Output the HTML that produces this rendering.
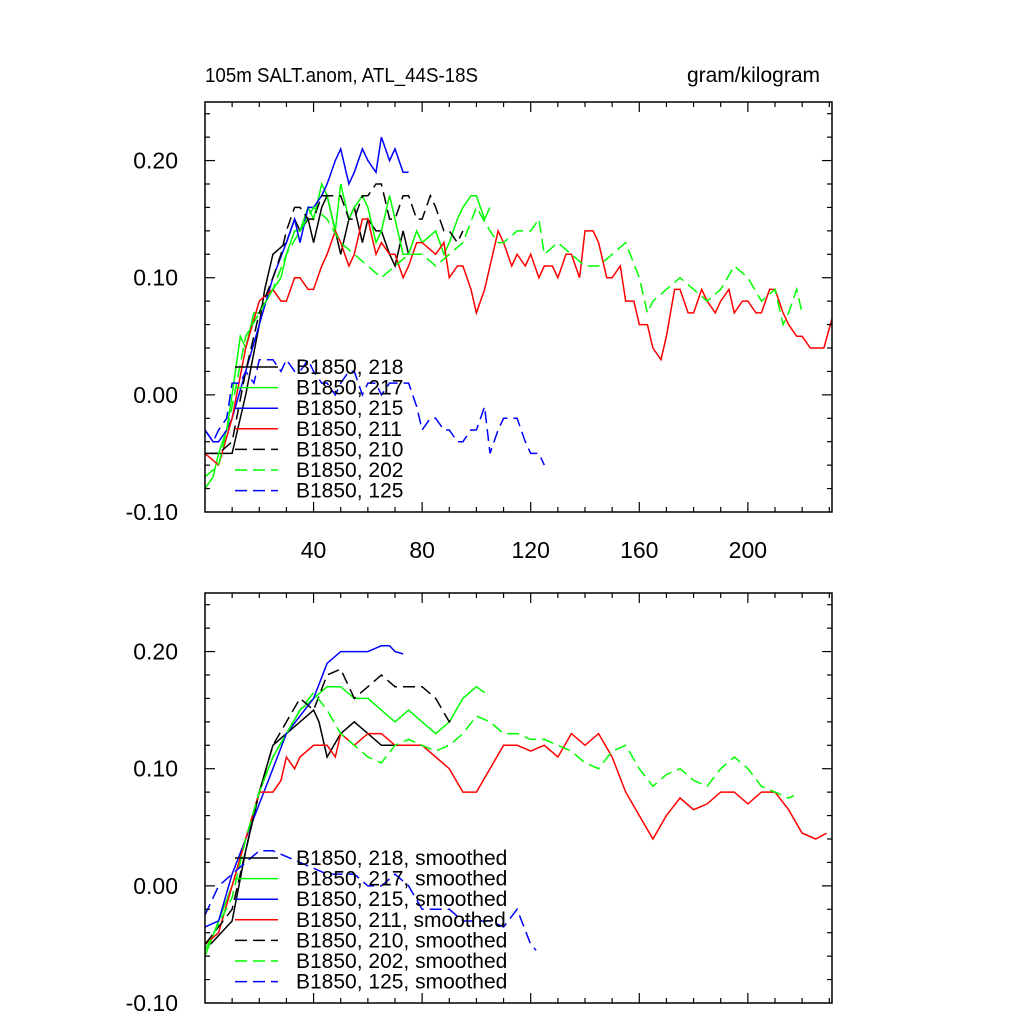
<!DOCTYPE html>
<html><head><meta charset="utf-8"><style>
body{margin:0;background:#fff}
svg text{font-family:"Liberation Sans",sans-serif;fill:#000}
</style></head><body>
<svg id="chart" width="1024" height="1024" viewBox="0 0 1024 1024">
<text x="205" y="82" font-size="20" textLength="273" lengthAdjust="spacingAndGlyphs">105m SALT.anom, ATL_44S-18S</text>
<text x="820" y="82" font-size="21" text-anchor="end">gram/kilogram</text>
</svg>
<script>
const seriesNames=["218","217","215","211","210","202","125"];
const seriesColors=["#000","#0f0","#00f","#f00","#000","#0f0","#00f"];
const seriesDashed=[false,false,false,false,true,true,true];
const yTicks=[-0.10,0.00,0.10,0.20];
const yTickLabels=["-0.10","0.00","0.10","0.20"];
const xTicks=[40,80,120,160,200];
const xTickLabels=["40","80","120","160","200"];
const raw218=[[2,-0.05],[10,-0.05],[15,0.0],[20,0.06],[22,0.09],[25,0.12],[30,0.13],[33,0.15],[35,0.14],[38,0.15],[40,0.13],[43,0.16],[45,0.17],[48,0.14],[50,0.12],[53,0.15],[55,0.16],[58,0.13],[60,0.15],[63,0.14],[65,0.14],[68,0.12],[70,0.11],[73,0.14],[75,0.12]];
const raw217=[[0,-0.08],[3,-0.07],[5,-0.05],[8,-0.03],[10,0.0],[13,0.05],[15,0.04],[18,0.07],[20,0.07],[25,0.09],[28,0.1],[30,0.12],[33,0.14],[35,0.14],[38,0.16],[40,0.15],[43,0.18],[45,0.17],[48,0.14],[50,0.18],[53,0.15],[55,0.16],[58,0.17],[60,0.16],[63,0.13],[65,0.14],[68,0.17],[70,0.15],[73,0.12],[75,0.12],[78,0.14],[80,0.13],[85,0.14],[88,0.12],[90,0.13],[93,0.15],[95,0.16],[98,0.17],[100,0.17],[103,0.15],[105,0.16]];
const raw215=[[0,-0.03],[3,-0.04],[5,-0.04],[8,-0.03],[10,-0.02],[15,0.02],[20,0.06],[25,0.1],[30,0.13],[33,0.15],[35,0.13],[38,0.16],[40,0.16],[43,0.17],[45,0.18],[48,0.2],[50,0.21],[53,0.18],[55,0.19],[58,0.21],[60,0.2],[63,0.19],[65,0.22],[68,0.2],[70,0.21],[73,0.19],[75,0.19]];
const raw211=[[0,-0.05],[5,-0.06],[10,-0.02],[15,0.04],[20,0.08],[25,0.09],[28,0.08],[30,0.08],[33,0.1],[35,0.1],[38,0.09],[40,0.09],[43,0.11],[45,0.12],[48,0.14],[50,0.13],[53,0.11],[55,0.12],[58,0.15],[60,0.15],[63,0.12],[65,0.13],[68,0.12],[70,0.12],[73,0.1],[75,0.11],[78,0.13],[80,0.13],[85,0.12],[88,0.13],[90,0.1],[93,0.11],[95,0.11],[98,0.09],[100,0.07],[103,0.09],[105,0.11],[108,0.14],[110,0.13],[113,0.11],[115,0.12],[118,0.11],[120,0.12],[123,0.1],[125,0.11],[128,0.11],[130,0.1],[133,0.12],[135,0.12],[138,0.1],[140,0.14],[143,0.14],[145,0.13],[148,0.1],[150,0.1],[153,0.11],[155,0.08],[158,0.08],[160,0.06],[163,0.06],[165,0.04],[168,0.03],[170,0.05],[173,0.09],[175,0.09],[178,0.07],[180,0.07],[183,0.09],[185,0.08],[188,0.07],[190,0.08],[193,0.09],[195,0.07],[198,0.08],[200,0.08],[203,0.07],[205,0.07],[208,0.09],[210,0.09],[213,0.07],[215,0.06],[218,0.05],[220,0.05],[223,0.04],[225,0.04],[228,0.04],[231,0.065]];
const raw210=[[0,-0.05],[5,-0.05],[10,-0.04],[15,0.02],[20,0.07],[25,0.1],[28,0.12],[30,0.14],[33,0.16],[35,0.16],[38,0.15],[40,0.15],[43,0.17],[45,0.17],[48,0.17],[50,0.17],[53,0.15],[55,0.15],[58,0.17],[60,0.17],[63,0.18],[65,0.18],[68,0.15],[70,0.15],[73,0.17],[75,0.17],[78,0.15],[80,0.15],[83,0.17],[85,0.16],[88,0.14],[90,0.14],[93,0.13],[95,0.14]];
const raw202=[[0,-0.07],[5,-0.06],[10,-0.01],[15,0.05],[20,0.07],[25,0.09],[30,0.12],[35,0.14],[40,0.16],[45,0.15],[50,0.13],[55,0.12],[60,0.11],[65,0.1],[70,0.11],[75,0.12],[80,0.12],[85,0.11],[90,0.12],[95,0.13],[100,0.16],[105,0.14],[108,0.13],[110,0.13],[115,0.14],[120,0.14],[123,0.15],[125,0.12],[130,0.13],[135,0.12],[140,0.11],[145,0.11],[150,0.12],[155,0.13],[160,0.1],[163,0.07],[165,0.08],[170,0.09],[175,0.1],[180,0.09],[185,0.08],[190,0.09],[195,0.11],[200,0.1],[205,0.08],[210,0.09],[213,0.06],[215,0.07],[218,0.09],[220,0.07]];
const raw125=[[0,-0.03],[3,-0.04],[5,-0.03],[8,-0.02],[10,0.01],[13,0.01],[15,0.02],[18,0.01],[20,0.03],[23,0.03],[25,0.03],[28,0.02],[30,0.03],[33,0.02],[35,0.02],[38,0.03],[40,0.02],[43,0.01],[45,0.01],[48,0.0],[50,0.01],[53,0.02],[55,0.02],[58,0.0],[60,0.01],[63,0.01],[65,0.0],[68,0.01],[70,0.01],[73,0.01],[75,0.01],[78,-0.01],[80,-0.03],[83,-0.02],[85,-0.02],[88,-0.03],[90,-0.03],[93,-0.04],[95,-0.04],[98,-0.03],[100,-0.03],[103,-0.01],[105,-0.05],[108,-0.03],[110,-0.02],[113,-0.02],[115,-0.02],[118,-0.04],[120,-0.05],[123,-0.05],[125,-0.06]];
const sm218=[[2,-0.05],[10,-0.03],[15,0.03],[20,0.08],[25,0.12],[30,0.13],[35,0.14],[40,0.15],[42,0.14],[45,0.11],[50,0.13],[55,0.14],[60,0.13],[65,0.12],[70,0.12]];
const sm217=[[0,-0.06],[10,0.0],[15,0.04],[20,0.08],[25,0.11],[30,0.13],[35,0.15],[40,0.16],[45,0.17],[50,0.17],[55,0.16],[60,0.16],[65,0.15],[70,0.14],[75,0.15],[80,0.14],[85,0.13],[90,0.14],[95,0.16],[100,0.17],[103,0.165]];
const sm215=[[0,-0.035],[5,-0.03],[10,0.01],[15,0.04],[20,0.07],[25,0.1],[30,0.13],[35,0.145],[40,0.16],[45,0.19],[50,0.2],[55,0.2],[60,0.2],[65,0.205],[68,0.205],[70,0.2],[73,0.198]];
const sm211=[[0,-0.05],[5,-0.04],[10,0.0],[15,0.04],[20,0.08],[25,0.08],[28,0.09],[30,0.11],[33,0.1],[35,0.11],[40,0.12],[45,0.12],[48,0.11],[50,0.13],[55,0.12],[60,0.13],[65,0.13],[70,0.12],[75,0.12],[80,0.12],[85,0.11],[90,0.1],[95,0.08],[100,0.08],[105,0.1],[110,0.12],[115,0.12],[120,0.115],[125,0.12],[130,0.11],[135,0.13],[140,0.12],[145,0.13],[150,0.11],[155,0.08],[160,0.06],[165,0.04],[170,0.06],[175,0.075],[180,0.065],[185,0.07],[190,0.08],[195,0.08],[200,0.07],[205,0.08],[210,0.08],[215,0.065],[220,0.045],[225,0.04],[229,0.045]];
const sm210=[[0,-0.05],[10,-0.02],[15,0.03],[20,0.08],[25,0.12],[30,0.14],[35,0.16],[40,0.15],[45,0.18],[50,0.185],[55,0.16],[60,0.17],[65,0.18],[70,0.17],[75,0.17],[80,0.17],[85,0.16],[90,0.14],[92,0.145]];
const sm202=[[0,-0.055],[10,-0.01],[15,0.04],[20,0.08],[25,0.11],[30,0.13],[35,0.15],[40,0.165],[45,0.15],[50,0.13],[55,0.12],[60,0.11],[65,0.105],[70,0.12],[75,0.125],[80,0.12],[85,0.115],[90,0.12],[95,0.13],[100,0.145],[105,0.14],[110,0.13],[115,0.13],[120,0.125],[125,0.125],[130,0.12],[135,0.115],[140,0.105],[145,0.1],[150,0.115],[155,0.12],[160,0.1],[165,0.085],[170,0.095],[175,0.1],[180,0.09],[185,0.085],[190,0.1],[195,0.11],[200,0.1],[205,0.085],[210,0.08],[215,0.075],[217,0.077]];
const sm125=[[0,-0.025],[5,0.0],[10,0.01],[15,0.02],[20,0.03],[25,0.03],[30,0.025],[35,0.02],[40,0.015],[45,0.01],[50,0.01],[55,0.01],[60,0.0],[65,0.0],[70,0.01],[75,0.0],[80,-0.02],[85,-0.02],[90,-0.02],[95,-0.03],[100,-0.03],[105,-0.03],[110,-0.035],[115,-0.02],[120,-0.05],[122,-0.055]];
const rawSeries=[raw218,raw217,raw215,raw211,raw210,raw202,raw125];
const smSeries=[sm218,sm217,sm215,sm211,sm210,sm202,sm125];

const NS="http://www.w3.org/2000/svg";
const svg=document.getElementById('chart');
function mk(tag,attrs,parent){const e=document.createElementNS(NS,tag);for(const k in attrs)e.setAttribute(k,attrs[k]);(parent||svg).appendChild(e);return e;}
function panel(top,data,suffix,showX,pname){
  const L=205,R=832,B=top+410,xmin=0,xmax=231,ymin=-0.10,ymax=0.25;
  const sx=v=>L+(v-xmin)/(xmax-xmin)*(R-L);
  const sy=v=>B-(v-ymin)/(ymax-ymin)*(B-top);
  const g=mk('g',{});
  
  
  const clipId='c'+top;
  const cp=mk('clipPath',{id:clipId},g);mk('rect',{x:L,y:top,width:R-L,height:B-top},cp);
  data.forEach((s,i)=>{
    const p=mk('path',{d:s.map((d,j)=>(j?'L':'M')+sx(d[0]).toFixed(1)+','+sy(d[1]).toFixed(1)).join(''),fill:'none',stroke:seriesColors[i],'stroke-width':1.5,'stroke-dasharray':seriesDashed[i]?'12,6':'none','clip-path':'url(#'+clipId+')'},g);
    
    
  });
  const fr=mk('rect',{x:L,y:top,width:R-L,height:B-top,fill:'none',stroke:'#000','stroke-width':1.5},g);
  
  
  for(let v=10;v<xmax;v+=10){const x=sx(v),len=(v%40===0)?10:5;
    mk('line',{x1:x,x2:x,y1:B,y2:B-len,stroke:'#000','stroke-width':1.2},g);
    mk('line',{x1:x,x2:x,y1:top,y2:top+len,stroke:'#000','stroke-width':1.2},g);}
  for(let k=-5;k<=12;k++){const v=k*0.02;if(v<=ymin+1e-9||v>=ymax-1e-9)continue;const y=sy(v),len=(k%5===0)?10:5;
    mk('line',{x1:L,x2:L+len,y1:y,y2:y,stroke:'#000','stroke-width':1.2},g);
    mk('line',{x1:R,x2:R-len,y1:y,y2:y,stroke:'#000','stroke-width':1.2},g);}
  yTicks.forEach((v,i)=>{const t=mk('text',{x:178,y:sy(v)+8,'font-size':23,'text-anchor':'end'},g);t.textContent=yTickLabels[i];
    
    });
  if(showX)xTicks.forEach((v,i)=>{const t=mk('text',{x:sx(v),y:B+46,'font-size':23,'text-anchor':'middle'},g);t.textContent=xTickLabels[i];
    
    });
  const ly0=top+265;
  seriesNames.forEach((n,i)=>{const y=ly0+i*20.6;
    const ln=mk('line',{x1:235,x2:278,y1:y,y2:y,stroke:seriesColors[i],'stroke-width':1.5,'stroke-dasharray':seriesDashed[i]?'12,6':'none'},g);
    
    
    const t=mk('text',{x:296,y:y+7,'font-size':21},g);t.textContent='B1850, '+n+suffix;
    
    });
}
panel(102,rawSeries,'',true,'top-panel');
panel(593,smSeries,', smoothed',false,'bottom-panel');
</script>
</body></html>
